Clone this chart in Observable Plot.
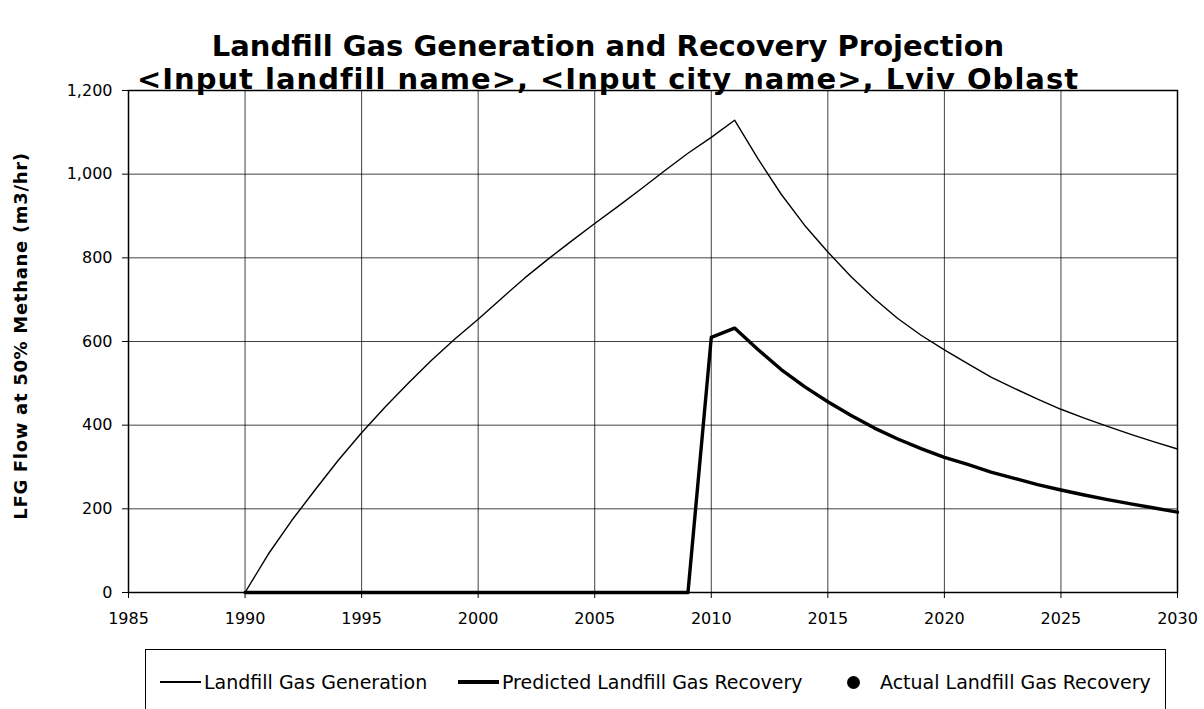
<!DOCTYPE html>
<html>
<head>
<meta charset="utf-8">
<script src="https://cdn.jsdelivr.net/npm/d3@7"></script>
<script src="https://cdn.jsdelivr.net/npm/@observablehq/plot@0.6"></script>
<style>
  html, body { margin: 0; padding: 0; background: #fff; }
  #wrap { position: relative; width: 1204px; height: 709px; overflow: hidden; font-family: "DejaVu Sans", Verdana, sans-serif; color: #000; }
  .title { position: absolute; left: 0; width: 1216px; text-align: center; font-weight: bold; font-size: 29px; line-height: 33px; white-space: nowrap; }
  #chart { position: absolute; left: 0; top: 80px; }
  #ylabel { position: absolute; left: 20px; top: 336px; transform: translate(-50%, -50%) rotate(-90deg); font-weight: bold; font-size: 18px; letter-spacing: 0.7px; white-space: nowrap; }
  #legend { position: absolute; left: 145px; top: 649px; width: 1021px; height: 80px; border: 1px solid #000; box-sizing: border-box; font-size: 19px; }
  .lg { position: absolute; top: 32px; transform: translateY(-50%); white-space: nowrap; }
  .sw { position: absolute; top: 32px; background: #000; }
</style>
</head>
<body>
<div id="wrap">
  <div id="chart"></div>
  <div class="title" style="top:30px">Landfill Gas Generation and Recovery Projection</div>
  <div class="title" style="top:63px;letter-spacing:1px">&lt;Input landfill name&gt;, &lt;Input city name&gt;, Lviv Oblast</div>
  <div id="ylabel">LFG Flow at 50% Methane (m3/hr)</div>
  <div id="legend"></div>
</div>
<script>
// ---- Data ----
const years = d3.range(1990, 2031);
const generation = [
  0, 92, 172, 245, 316, 382, 443, 500, 555, 606,
  653, 703, 752, 797, 840, 882, 923, 965, 1008, 1050,
  1088, 1129, 1037, 952, 878, 814, 755, 702, 655, 615,
  580, 547, 515, 488, 462, 438, 417, 397, 378, 360,
  343
];
const predictedRecovery = [
  0, 0, 0, 0, 0, 0, 0, 0, 0, 0,
  0, 0, 0, 0, 0, 0, 0, 0, 0, 0,
  610, 632, 581, 533, 492, 456, 423, 393, 367, 344,
  323, 306, 288, 273, 258, 245, 233, 222, 212, 202,
  192
];
const actualYears = [];
const actualRecovery = [];
const xTicks = [1985, 1990, 1995, 2000, 2005, 2010, 2015, 2020, 2025, 2030];
const yTicks = [0, 200, 400, 600, 800, 1000, 1200];
const seriesNames = ["Landfill Gas Generation", "Predicted Landfill Gas Recovery", "Actual Landfill Gas Recovery"];

const genData = years.map((y, i) => ({year: y, value: generation[i]}));
const recData = years.map((y, i) => ({year: y, value: predictedRecovery[i]}));
const actData = actualYears.map((y, i) => ({year: y, value: actualRecovery[i]}));

const chart = Plot.plot({
  width: 1204,
  height: 560,
  marginTop: 10,
  marginBottom: 48,
  marginLeft: 128,
  marginRight: 27,
  style: {fontFamily: '"DejaVu Sans", Verdana, sans-serif', fontSize: "16px", color: "#000", background: "transparent", overflow: "visible"},
  x: {domain: [1985, 2030], label: null},
  y: {domain: [0, 1200], label: null},
  marks: [
    Plot.gridX(xTicks, {stroke: "#000", strokeOpacity: 0.75, strokeWidth: 1}),
    Plot.gridY(yTicks, {stroke: "#000", strokeOpacity: 0.75, strokeWidth: 1}),
    Plot.frame({stroke: "#000", strokeWidth: 1.5}),
    Plot.line(genData, {x: "year", y: "value", stroke: "#000", strokeWidth: 1.4}),
    Plot.line(recData, {x: "year", y: "value", stroke: "#000", strokeWidth: 3.4}),
    Plot.dot(actData, {x: "year", y: "value", fill: "#000", r: 6}),
    Plot.axisX(xTicks, {tickSize: 6, tickPadding: 14, fontSize: 16, tickFormat: d => String(d), label: null}),
    Plot.axisY(yTicks, {tickSize: 6, tickPadding: 10, fontSize: 16, tickFormat: d3.format(","), label: null})
  ]
});
document.getElementById("chart").appendChild(chart);

// ---- Legend ----
const lg = document.getElementById("legend");
lg.innerHTML = `
  <div class="sw" style="left:14px;width:41px;height:1.4px;margin-top:-0.7px"></div>
  <div class="lg" style="left:58px">${seriesNames[0]}</div>
  <div class="sw" style="left:312px;width:41px;height:3.4px;margin-top:-1.7px"></div>
  <div class="lg" style="left:356px">${seriesNames[1]}</div>
  <div class="sw" style="left:701px;width:13px;height:13px;margin-top:-6.5px;border-radius:50%"></div>
  <div class="lg" style="left:734px">${seriesNames[2]}</div>
`;
</script>
</body>
</html>
